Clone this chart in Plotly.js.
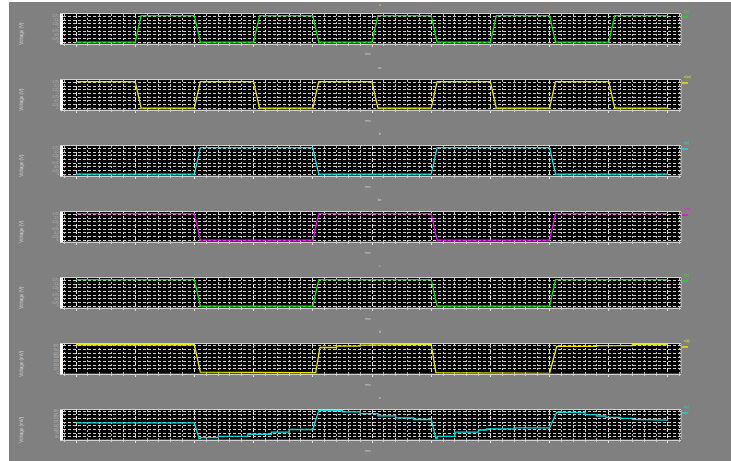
<!DOCTYPE html>
<html>
<head>
<meta charset="utf-8">
<script src="https://cdn.plot.ly/plotly-3.0.1.min.js"></script>
<style>
  html, body { margin: 0; padding: 0; background: #ffffff; }
  #chart { position: absolute; left: 9px; top: 2px; width: 722px; height: 459px; }
</style>
</head>
<body>
<div id="chart"></div>
<script>
// ---------- data (time in units, voltages) ----------
const t1 = [0, 1, 1.1, 2, 2.1, 3, 3.1, 4, 4.1, 5, 5.1, 6, 6.1, 7, 7.1, 8, 8.1, 9, 9.1, 10];
const v1 = [0, 0, 1.8, 1.8, 0, 0, 1.8, 1.8, 0, 0, 1.8, 1.8, 0, 0, 1.8, 1.8, 0, 0, 1.8, 1.8];

const t2 = [0, 1, 1.1, 2, 2.1, 3, 3.1, 4, 4.1, 5, 5.1, 6, 6.1, 7, 7.1, 8, 8.1, 9, 9.1, 10];
const v2 = [1.8, 1.8, 0, 0, 1.8, 1.8, 0, 0, 1.8, 1.8, 0, 0, 1.8, 1.8, 0, 0, 1.8, 1.8, 0, 0];

const t3 = [0, 2, 2.1, 4, 4.1, 6, 6.1, 8, 8.1, 10];
const v3 = [0, 0, 1.8, 1.8, 0, 0, 1.8, 1.8, 0, 0];

const t4 = [0, 2, 2.1, 4, 4.1, 6, 6.1, 8, 8.1, 10];
const v4 = [1.8, 1.8, 0, 0, 1.8, 1.8, 0, 0, 1.8, 1.8];

const t5 = [0, 2, 2.1, 4, 4.1, 6, 6.1, 8, 8.1, 10];
const v5 = [1.8, 1.8, 0, 0, 1.8, 1.8, 0, 0, 1.8, 1.8];

const t6 = [0, 2.0, 2.1, 2.5, 2.5, 4.05, 4.12, 4.4, 4.4, 4.8, 4.8, 5.5, 5.5, 6.0, 6.08, 7.8, 7.8, 8.0, 8.12, 8.8, 8.8, 9.4, 9.4, 10];
const v6 = [910, 910, 20, 20, 0, 0, 821, 821, 866, 866, 900, 900, 924, 924, 0, 0, -18, -18, 855, 855, 883, 883, 917, 917];

const t7 = [0, 2.0, 2.08, 2.1, 2.1, 2.4, 2.4, 2.9, 2.9, 3.3, 3.3, 3.6, 3.6, 4.0, 4.1, 4.5, 4.5, 4.8, 4.8, 5.1, 5.1, 5.4, 5.4, 5.7, 5.7, 6.0, 6.08, 6.1, 6.1, 6.4, 6.4, 6.8, 6.8, 6.94, 6.94, 7.4, 7.4, 8.0, 8.12, 8.5, 8.5, 8.6, 8.6, 8.8, 8.8, 8.95, 8.95, 9.2, 9.2, 9.4, 9.4, 9.7, 9.7, 10];
const v7 = [167, 167, 17, 17, 27, 27, 40, 40, 60, 60, 80, 80, 105, 105, 285, 285, 272, 272, 255, 255, 235, 235, 215, 215, 200, 200, 17, 17, 40, 40, 80, 80, 100, 100, 110, 110, 120, 120, 270, 270, 265, 265, 247, 247, 233, 233, 220, 220, 210, 210, 200, 200, 193, 193];

const seriesNames = ["v(a)", "v(an)", "v(b)", "v(bn)", "v(c)", "v(d)", "v(e)"];
const plotTitles = ["a", "an", "b", "bn", "c", "d", "e"];
const yTitles = ["Voltage (V)", "Voltage (V)", "Voltage (V)", "Voltage (V)", "Voltage (V)", "Voltage (mV)", "Voltage (mV)"];
const xTitle = "time";

// ---------- styling ----------
const ts = [t1, t2, t3, t4, t5, t6, t7];
const vs = [v1, v2, v3, v4, v5, v6, v7];
const colors = ["#10e010", "#e6e600", "#10dede", "#e010e0", "#10e010", "#e6e600", "#10d6d6"];
const yRanges = [[-0.09, 1.91], [-0.09, 1.91], [-0.09, 1.91], [-0.09, 1.91], [-0.09, 1.91], [-25, 935], [10, 290]];
const yDticks = [0.25, 0.25, 0.25, 0.25, 0.25, 125, 35];

const plotH = 426;          // plot area height in px
const panelTop0 = 0, panelStep = 66, panelH = 29.5;

const traces = [];
const layout = {
  width: 722, height: 459,
  margin: {l: 54, r: 50, t: 12, b: 21, pad: 0},
  paper_bgcolor: "#808080",
  plot_bgcolor: "#000000",
  showlegend: false,
  font: {family: "Liberation Sans, Arial, sans-serif", size: 4, color: "#cfcfcf"},
  annotations: [],
  shapes: []
};

for (let k = 0; k < 7; k++) {
  const sfx = k === 0 ? "" : String(k + 1);
  const top = 1 - (panelTop0 + panelStep * k) / plotH;
  const bot = Math.max(0, 1 - (panelTop0 + panelStep * k + panelH) / plotH);
  traces.push({
    type: "scatter", mode: "lines",
    x: ts[k], y: vs[k], name: seriesNames[k],
    xaxis: "x" + sfx, yaxis: "y" + sfx,
    line: {color: colors[k], width: 1.3},
    hoverinfo: "skip"
  });
  layout["xaxis" + sfx] = {
    anchor: "y" + sfx,
    domain: [0, 1],
    range: [-0.22, 10.22],
    dtick: 1, tick0: 0,
    showticklabels: false,
    ticks: "outside", ticklen: 2, tickcolor: "#e0e0e0", tickwidth: 1,
    showgrid: true, gridcolor: "#d8d8d8", gridwidth: 1, griddash: "4px,2px",
    minor: {dtick: 0.2, showgrid: true, gridcolor: "#b8b8b8", griddash: "2px,2px", ticks: "outside", ticklen: 1, tickcolor: "#cccccc"},
    showline: true, linecolor: "#d0d0d0", linewidth: 1, mirror: true,
    zeroline: false, fixedrange: true
  };
  layout["yaxis" + sfx] = {
    anchor: "x" + sfx,
    domain: [bot, top],
    range: yRanges[k],
    dtick: yDticks[k], tick0: 0,
    tickfont: {size: 3, color: "#bdbdbd"},
    ticks: "", ticklabelstandoff: 1,
    showgrid: true, gridcolor: "#cfcfcf", gridwidth: 1, griddash: "3px,2px",
    showline: true, linecolor: "#ffffff", linewidth: 3, mirror: false,
    zeroline: false, fixedrange: true
  };
  // right border line
  layout.shapes.push({type: "line", xref: "paper", yref: "paper", x0: 1, x1: 1, y0: bot, y1: top,
    line: {color: "#d0d0d0", width: 1}});
  // legend key (sample + name) at right of each panel
  layout.shapes.push({type: "line", xref: "paper", yref: "paper",
    x0: 1 + 1 / 618, x1: 1 + 7 / 618, y0: top - 3 / plotH, y1: top - 3 / plotH,
    line: {color: colors[k], width: 1.5}});
  layout.annotations.push({xref: "paper", yref: "paper", x: 1 + 1 / 618, y: top - 1 / plotH,
    xanchor: "left", yanchor: "bottom", showarrow: false, text: seriesNames[k],
    font: {size: 3, color: colors[k]}});
  // panel title
  layout.annotations.push({xref: "paper", yref: "paper", x: 0.5 + 8 / 618, y: top + (k === 0 ? 9 : 12) / plotH,
    xanchor: "center", yanchor: "middle", showarrow: false, text: plotTitles[k],
    font: {size: 3, color: "#dddddd"}});
  // x axis title
  layout.annotations.push({xref: "paper", yref: "paper", x: 0.5 - 4 / 618, y: bot - 11 / plotH,
    xanchor: "center", yanchor: "middle", showarrow: false, text: xTitle,
    font: {size: 3, color: "#cfcfcf"}});
  // y axis title
  layout.annotations.push({xref: "paper", yref: "paper", x: (22 - 63) / 618, y: (top + bot) / 2 - 5 / plotH,
    xanchor: "center", yanchor: "middle", showarrow: false, text: yTitles[k], textangle: -90,
    font: {size: 4.5, color: "#cfcfcf"}});
}

Plotly.newPlot("chart", traces, layout, {displayModeBar: false, staticPlot: true});
</script>
</body>
</html>
